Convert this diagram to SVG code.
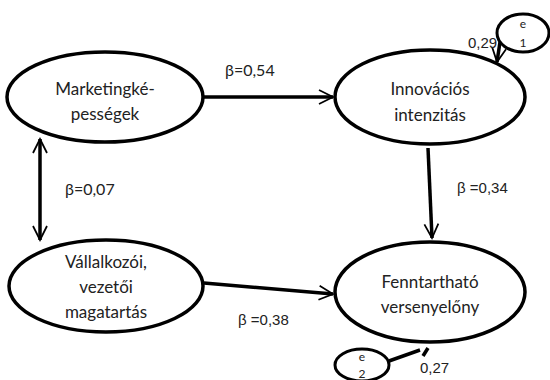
<svg xmlns="http://www.w3.org/2000/svg" width="550" height="380" viewBox="0 0 550 380">
<style>
.n{fill:#fff;stroke:#000;stroke-width:3.5}
.e{fill:#fff;stroke:#000;stroke-width:3}
.t{font-family:Lato,"Liberation Sans",sans-serif;font-size:17px;fill:#222;text-anchor:middle}
.l{font-family:Lato,"Liberation Sans",sans-serif;font-size:16px;fill:#222}
.s{font-family:"Liberation Sans",Arial,sans-serif;font-size:15px;fill:#222}
.x{font-family:Lato,"Liberation Sans",sans-serif;font-size:12px;fill:#222;text-anchor:middle}
.c{stroke:#000;stroke-width:3.5;fill:none}
</style>
<defs>
<marker id="a" viewBox="0 0 10 10" refX="9" refY="5" markerWidth="5" markerHeight="5" orient="auto-start-reverse" markerUnits="strokeWidth">
<path d="M1,1 L9,5 L1,9" fill="none" stroke="#000" stroke-width="1"/>
</marker>
</defs>
<g id="connectors">
<line class="c" x1="204" y1="97" x2="333" y2="97" marker-end="url(#a)"/>
<line class="c" x1="428" y1="148" x2="432" y2="238" marker-end="url(#a)"/>
<line class="c" x1="40" y1="139" x2="40" y2="240" marker-start="url(#a)" marker-end="url(#a)"/>
<line class="c" x1="204" y1="283" x2="333" y2="294" marker-end="url(#a)"/>
<line class="c" x1="500" y1="42" x2="497" y2="62" marker-end="url(#a)"/>
<line class="c" x1="389" y1="361" x2="420" y2="350"/>
<line class="c" x1="423" y1="356" x2="428" y2="348"/>
</g>
<g id="marketing">
<ellipse class="n" cx="105" cy="97" rx="98" ry="45"/>
<text class="t" x="105" y="95">Marketingké-</text>
<text class="t" x="105" y="120">pességek</text>
</g>
<g id="innovacios">
<ellipse class="n" cx="430" cy="97" rx="95" ry="47"/>
<text class="t" x="430" y="95">Innovációs</text>
<text class="t" x="430" y="121">intenzitás</text>
</g>
<g id="vallalkozoi">
<ellipse class="n" cx="106" cy="286" rx="97" ry="46"/>
<text class="t" x="106" y="268">Vállalkozói,</text>
<text class="t" x="106" y="293">vezetői</text>
<text class="t" x="106" y="318">magatartás</text>
</g>
<g id="fenntarthato">
<ellipse class="n" cx="430" cy="292" rx="95" ry="50"/>
<text class="t" x="430" y="288">Fenntartható</text>
<text class="t" x="430" y="313">versenyelőny</text>
</g>
<g id="e1">
<ellipse class="e" cx="523" cy="33" rx="26" ry="19"/>
<text class="x" x="523" y="28">e</text>
<text class="x" x="523" y="47">1</text>
</g>
<g id="e2">
<ellipse class="e" cx="362" cy="365" rx="27" ry="16"/>
<text class="x" x="362" y="361">e</text>
<text class="x" x="362" y="378">2</text>
</g>
<g id="labels">
<text class="l" x="225" y="76">β=0,54</text>
<text class="s" x="457" y="193">β =0,34</text>
<text class="l" x="65" y="195">β=0,07</text>
<text class="s" x="238" y="325">β =0,38</text>
<text class="s" x="468" y="48">0,29</text>
<text class="s" x="420" y="373">0,27</text>
</g>
</svg>
